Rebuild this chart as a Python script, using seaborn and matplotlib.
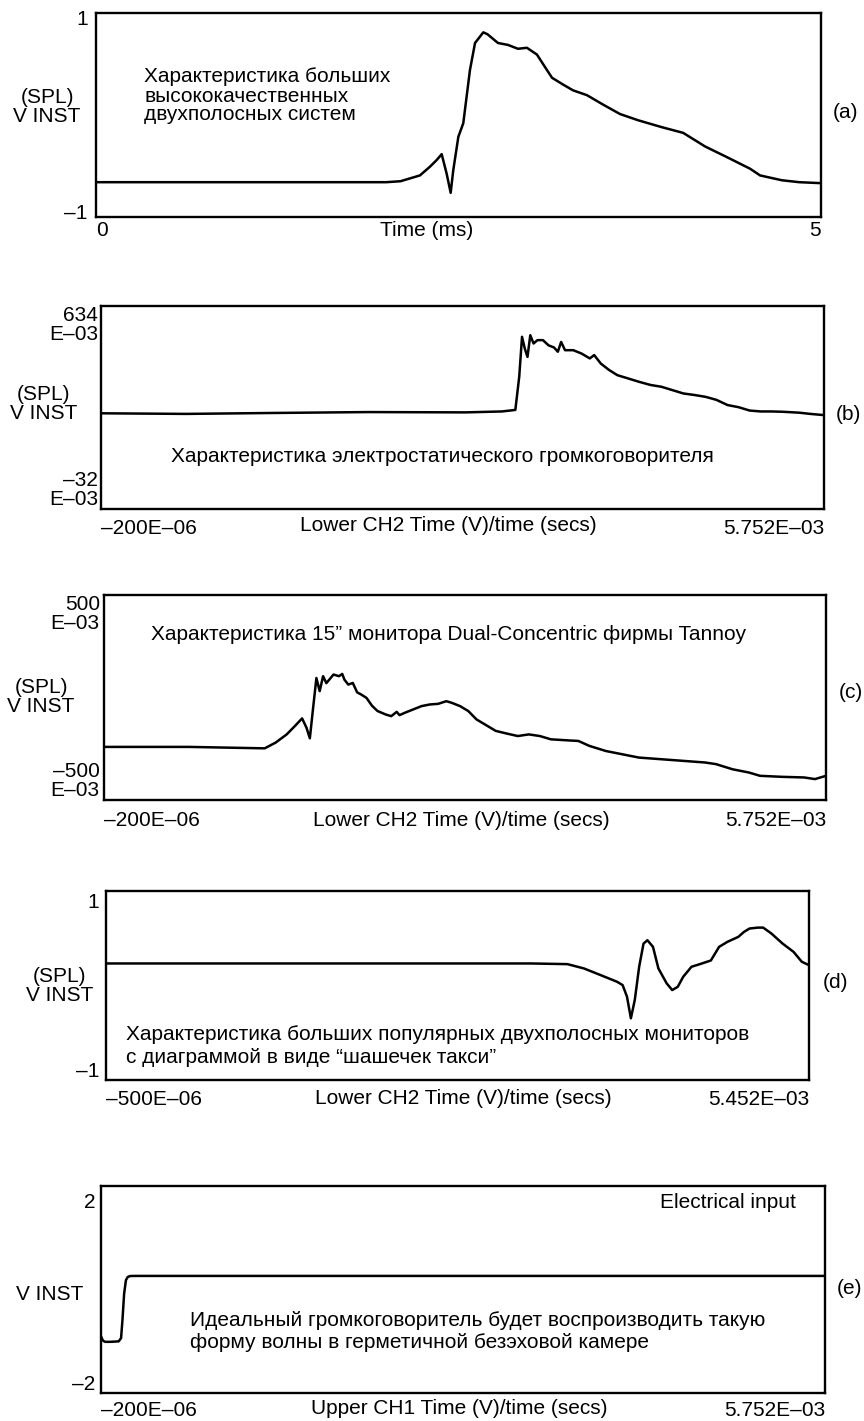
import matplotlib
matplotlib.use('Agg')
import matplotlib.pyplot as plt
import seaborn as sns

# ---------------- data (time in ms, scope units) ----------------
t_a = [0.00, 1.00, 2.00, 2.10, 2.234, 2.303, 2.35, 2.384, 2.418, 2.446,
       2.464, 2.499, 2.533, 2.579, 2.614, 2.671, 2.700, 2.772, 2.841, 2.910,
       2.972, 3.041, 3.110, 3.145, 3.221, 3.290, 3.386, 3.500, 3.614, 3.74,
       3.90, 4.05, 4.20, 4.35, 4.51, 4.58, 4.73, 4.85, 5.00]
v_a = [-0.70, -0.70, -0.70, -0.69, -0.63, -0.54, -0.47, -0.41, -0.61, -0.81,
       -0.575, -0.23, -0.09, 0.46, 0.74, 0.85, 0.83, 0.74, 0.72, 0.68,
       0.69, 0.62, 0.46, 0.38, 0.31, 0.25, 0.20, 0.10, 0.005, -0.06,
       -0.13, -0.19, -0.33, -0.44, -0.56, -0.63, -0.68, -0.70, -0.71]

t_b = [-0.20, 0.50, 1.20, 2.00, 2.80, 3.10, 3.211, 3.243, 3.266, 3.289,
       3.311, 3.334, 3.361, 3.393, 3.438, 3.484, 3.529, 3.561, 3.588, 3.620,
       3.688, 3.756, 3.824, 3.860, 3.915, 3.983, 4.051, 4.142, 4.232, 4.323,
       4.414, 4.504, 4.595, 4.686, 4.777, 4.867, 4.958, 5.049, 5.140, 5.230,
       5.321, 5.412, 5.548, 5.639, 5.752]
v_b = [0.282, 0.280, 0.283, 0.286, 0.285, 0.288, 0.293, 0.402, 0.533, 0.494,
       0.467, 0.538, 0.511, 0.522, 0.522, 0.505, 0.498, 0.484, 0.516, 0.489,
       0.489, 0.478, 0.462, 0.473, 0.445, 0.424, 0.407, 0.396, 0.385, 0.375,
       0.369, 0.358, 0.347, 0.342, 0.336, 0.326, 0.309, 0.302, 0.291, 0.288,
       0.288, 0.287, 0.284, 0.280, 0.276]

t_c = [-0.200, 0.500, 1.125, 1.215, 1.306, 1.374, 1.433, 1.469, 1.497, 1.524,
       1.551, 1.578, 1.606, 1.633, 1.692, 1.737, 1.764, 1.782, 1.814, 1.851,
       1.887, 1.919, 1.964, 2.009, 2.055, 2.123, 2.168, 2.213, 2.236, 2.282,
       2.350, 2.418, 2.486, 2.554, 2.622, 2.667, 2.735, 2.803, 2.871, 2.939,
       3.030, 3.121, 3.211, 3.302, 3.393, 3.484, 3.620, 3.711, 3.801, 3.937,
       4.073, 4.209, 4.391, 4.572, 4.754, 4.845, 4.981, 5.117, 5.208, 5.389,
       5.571, 5.661, 5.752]
v_c = [-0.241, -0.241, -0.248, -0.220, -0.180, -0.139, -0.102, -0.147, -0.199, -0.050,
       0.095, 0.031, 0.104, 0.070, 0.112, 0.104, 0.115, 0.087, 0.063, 0.071,
       0.025, 0.015, -0.002, -0.040, -0.066, -0.083, -0.091, -0.070, -0.086, -0.074,
       -0.058, -0.042, -0.034, -0.031, -0.018, -0.026, -0.042, -0.066, -0.107, -0.131,
       -0.163, -0.176, -0.188, -0.180, -0.188, -0.204, -0.209, -0.212, -0.236, -0.261,
       -0.277, -0.293, -0.301, -0.309, -0.317, -0.325, -0.350, -0.366, -0.382, -0.387,
       -0.390, -0.398, -0.382]

t_d = [-0.500, 1.000, 2.500, 3.100, 3.407, 3.547, 3.687, 3.827, 3.874, 3.911,
       3.944, 3.977, 4.014, 4.051, 4.084, 4.131, 4.177, 4.247, 4.294, 4.341,
       4.387, 4.457, 4.528, 4.621, 4.691, 4.761, 4.854, 4.901, 4.948, 5.018,
       5.064, 5.134, 5.228, 5.321, 5.391, 5.452]
v_d = [0.255, 0.255, 0.255, 0.255, 0.247, 0.196, 0.118, 0.039, 0.000, -0.137,
       -0.392, -0.176, 0.216, 0.490, 0.529, 0.451, 0.196, 0.020, -0.059, -0.020,
       0.098, 0.216, 0.247, 0.290, 0.451, 0.510, 0.569, 0.627, 0.667, 0.678,
       0.678, 0.608, 0.490, 0.392, 0.275, 0.235]

t_e = [-0.200, -0.185, -0.168, -0.123, -0.055, -0.035, -0.023, -0.010, 0.005, 0.020,
       0.040, 0.081, 2.000, 4.000, 5.752]
v_e = [-0.98, -1.07, -1.10, -1.10, -1.09, -1.02, -0.60, -0.05, 0.25, 0.32,
       0.34, 0.342, 0.342, 0.342, 0.342]

xlims = [(0.0, 5.0), (-0.2, 5.752), (-0.2, 5.752), (-0.5, 5.452), (-0.2, 5.752)]
ylims = [(-1.06, 1.05), (-0.032, 0.634), (-0.5, 0.5), (-1.12, 1.11), (-2.22, 2.31)]
xtick_labels = [['0', '5'], ['–200E–06', '5.752E–03'], ['–200E–06', '5.752E–03'],
                ['–500E–06', '5.452E–03'], ['–200E–06', '5.752E–03']]
ytick_vals = [[-1, 1], [-0.032, 0.634], [-0.5, 0.5], [-1, 1], [-2, 2]]
ytick_labels = [['–1', '1'], ['–32\nE–03', '634\nE–03'], ['–500\nE–03', '500\nE–03'],
                ['–1', '1'], ['–2', '2']]
xlabels = ['Time (ms)', 'Lower CH2 Time (V)/time (secs)', 'Lower CH2 Time (V)/time (secs)',
           'Lower CH2 Time (V)/time (secs)', 'Upper CH1 Time (V)/time (secs)']
ylabels = ['(SPL)\nV INST', '(SPL)\nV INST', '(SPL)\nV INST', '(SPL)\nV INST', 'V INST']
letters = ['(a)', '(b)', '(c)', '(d)', '(e)']
series = [(t_a, v_a), (t_b, v_b), (t_c, v_c), (t_d, v_d), (t_e, v_e)]

# ---------------- layout (pixels) ----------------
W, H = 864, 1421
boxes = [(96, 13, 821, 217), (101, 306, 824, 509), (104, 595, 826, 800),
         (106, 891, 809, 1080), (101, 1186, 825, 1393)]
xpads = [3, 7, 8, 7, 6]
ypads = [6, 2, 3, 5, 4]
ylabel_pos = [(47, 107), (44, 404), (41, 697), (60, 986), (50, 1295)]
letter_pos = [(846, 112), (848, 414), (851, 692), (835, 982), (850, 1288)]
xlabel_pos = [(427, 230), (448, 526), (461, 820), (463, 1098), (459, 1409)]

sns.set_theme(style='white')
plt.rcParams['font.family'] = ['Liberation Sans', 'DejaVu Sans']
FS = 15

fig = plt.figure(figsize=(W / 100, H / 100), dpi=100)


def rect(x0, y0, x1, y1):
    return [x0 / W, 1 - y1 / H, (x1 - x0) / W, (y1 - y0) / H]


def ftext(x, y, s, **kw):
    kw.setdefault('fontsize', FS)
    kw.setdefault('color', 'black')
    fig.text(x / W, 1 - y / H, s, **kw)


for i in range(5):
    ax = fig.add_axes(rect(*boxes[i]))
    t, v = series[i]
    sns.lineplot(x=t, y=v, ax=ax, color='black', lw=1.8, estimator=None, sort=False)
    ax.set_xlim(*xlims[i])
    ax.set_ylim(*ylims[i])
    ax.set_xticks(list(xlims[i]), labels=xtick_labels[i])
    ax.set_yticks(ytick_vals[i], labels=ytick_labels[i])
    ax.tick_params(length=0, labelsize=FS, colors='black')
    ax.tick_params(axis='x', pad=xpads[i])
    ax.tick_params(axis='y', pad=ypads[i])
    xt = ax.get_xticklabels()
    xt[0].set_ha('left')
    xt[1].set_ha('right')
    yt = ax.get_yticklabels()
    for lab in yt:
        lab.set_linespacing(1.0)
    if '\n' in ytick_labels[i][0]:
        yt[0].set_va('bottom')
        yt[1].set_va('top')
    ax.set_xlabel('')
    ax.set_ylabel('')
    for sp in ax.spines.values():
        sp.set_visible(True)
        sp.set_color('black')
        sp.set_linewidth(1.7)
    ax.grid(False)
    ftext(*ylabel_pos[i], ylabels[i], ha='center', va='center', linespacing=1.0)
    ftext(*letter_pos[i], letters[i], ha='center', va='center')
    ftext(*xlabel_pos[i], xlabels[i], ha='center', va='center')

# annotations
ftext(144, 96, 'Характеристика больших\nвысококачественных\nдвухполосных систем',
      ha='left', va='center', linespacing=1.0)
ftext(442, 457, 'Характеристика электростатического громкоговорителя', ha='center', va='center')
ftext(151, 635, 'Характеристика 15” монитора Dual-Concentric фирмы Tannoy', ha='left', va='center')
ftext(126, 1046, 'Характеристика больших популярных двухполосных мониторов\n'
      'с диаграммой в виде “шашечек такси”', ha='left', va='center', linespacing=1.25)
ftext(796, 1203, 'Electrical input', ha='right', va='center')
ftext(190, 1331, 'Идеальный громкоговоритель будет воспроизводить такую\n'
      'форму волны в герметичной безэховой камере', ha='left', va='center', linespacing=1.2)

fig.savefig('out.png', dpi=100)
